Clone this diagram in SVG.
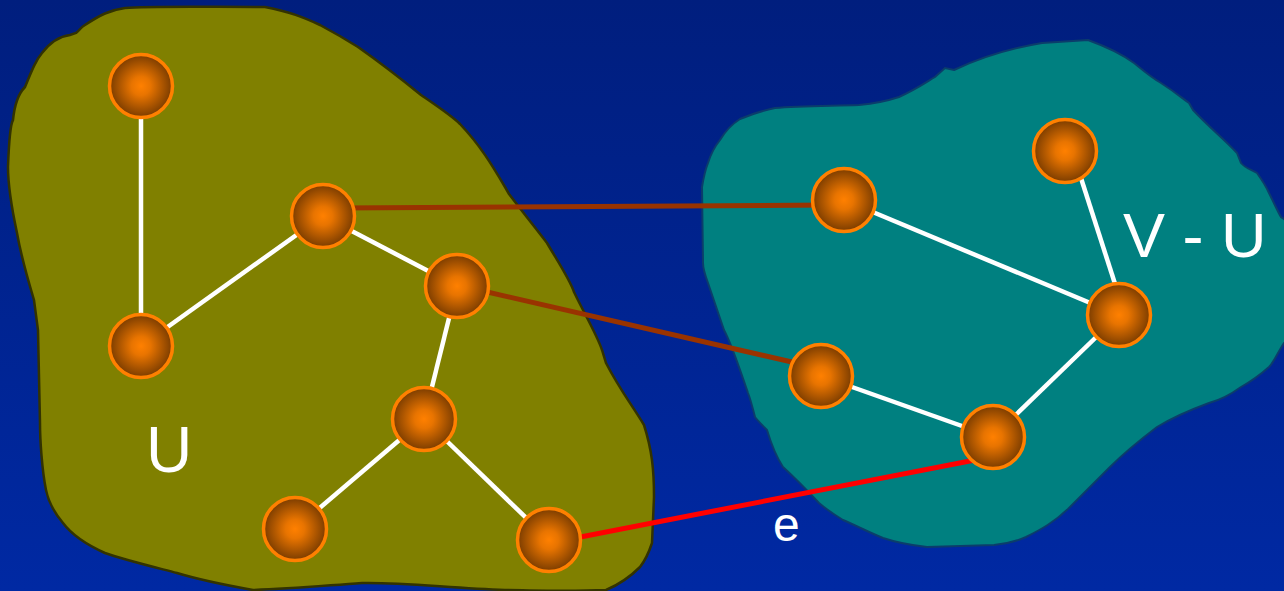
<svg xmlns="http://www.w3.org/2000/svg" width="1284" height="591" viewBox="0 0 1284 591">
<style>
.edge{stroke:#ffffff;stroke-width:4.5;fill:none}
.bridge{stroke:#993300;stroke-width:5;fill:none}
.cut{stroke:#ff0000;stroke-width:5;fill:none}
.node{fill:url(#ball);stroke:#ff8000;stroke-width:3.5}
.lbl{fill:#ffffff;font-family:"Liberation Sans",Arial,sans-serif}
</style>
<defs>
<linearGradient id="bg" x1="0" y1="0" x2="0" y2="1">
<stop offset="0" stop-color="#001e7e"/>
<stop offset="1" stop-color="#0029a3"/>
</linearGradient>
<radialGradient id="ball" cx="0.5" cy="0.5" r="0.5">
<stop offset="0" stop-color="#ff8000"/>
<stop offset="0.3" stop-color="#e87400"/>
<stop offset="1" stop-color="#7a3c00"/>
</radialGradient>
</defs>
<rect width="1284" height="591" fill="url(#bg)"/>
<g id="setU">
<path d="M265,7 C290,12 303,17 320,25 C335,33 350,42 358,47 C385,66 405,82 421,95 C440,108 452,116 460,124 C480,145 492,165 505,187 L509,194 C525,215 537,230 547,243 C560,265 570,280 574,292 C585,315 597,335 602,350 L606,363 C620,390 632,405 644,425 C652,450 654,470 654,497 L652,543 C648,555 644,562 640,567 C630,577 618,585 606,590 C560,592 530,590 505,590 C450,588 400,582 362,583 C320,586 290,589 253,590 C225,585 200,580 177,573 C150,566 125,560 105,553 C85,544 72,535 63,523 C52,510 48,500 46,490 C42,470 40,440 40,423 L38,330 L34,300 C25,270 20,250 17,233 C10,200 8,180 8,167 C9,140 10,125 13,120 C15,100 20,92 25,87 C32,70 36,60 42,53 C52,40 62,36 70,35 L76,33 C80,30 80,28 85,25 C100,15 110,10 125,8 C150,6 200,7 265,7 Z" fill="#808000" stroke="#333300" stroke-width="2.5"/>
<text class="lbl" x="146" y="472" font-size="64">U</text>
</g>
<g id="setVU">
<path d="M1088,40 C1110,48 1122,54 1134,63 C1145,72 1152,78 1161,83 C1175,92 1182,98 1189,103 L1193,110 C1210,128 1225,140 1237,153 L1241,163 C1245,168 1252,170 1257,173 C1262,180 1266,186 1269,193 C1274,203 1278,212 1281,217 L1300,230 L1300,335 L1284,343 C1278,352 1274,362 1269,367 C1260,375 1250,382 1241,387 C1230,395 1220,400 1209,403 C1190,410 1172,418 1157,427 C1140,440 1125,452 1110,467 C1095,482 1080,497 1070,507 C1055,522 1040,530 1026,537 C1015,542 1005,544 994,545 L927,547 C908,545 895,542 883,538 C868,532 855,525 843,520 C833,514 826,509 819,503 C805,488 795,478 783,467 C775,455 770,440 767,430 C762,425 758,421 755,417 C752,405 750,398 748,393 C740,370 732,345 724,330 L708,283 C705,275 703,268 703,263 L702,187 C704,175 706,168 708,163 C712,150 716,145 720,140 C726,130 732,124 740,119 C752,114 765,110 775,108 C800,106 830,106 859,105 C880,103 890,100 899,97 C915,90 925,83 935,77 L945,68 L954,70 C975,60 1000,50 1042,43 Z" fill="#008080" stroke="#0b3d6b" stroke-width="2"/>
<text class="lbl" x="1123" y="257" font-size="63">V - U</text>
</g>
<g id="connectors">
<line class="edge" x1="141" y1="86" x2="141" y2="346"/>
<line class="edge" x1="141" y1="346" x2="323" y2="216"/>
<line class="edge" x1="323" y1="216" x2="457" y2="286"/>
<line class="edge" x1="457" y1="286" x2="424" y2="419"/>
<line class="edge" x1="424" y1="419" x2="295" y2="529"/>
<line class="edge" x1="424" y1="419" x2="549" y2="540"/>
<line class="edge" x1="844" y1="200" x2="1119" y2="315"/>
<line class="edge" x1="1080" y1="175" x2="1117" y2="290"/>
<line class="edge" x1="1119" y1="315" x2="993" y2="437"/>
<line class="edge" x1="821" y1="376" x2="993" y2="437"/>
<line class="bridge" x1="340" y1="208" x2="830" y2="205"/>
<line class="bridge" x1="470" y1="288" x2="805" y2="365"/>
<line class="cut" x1="560" y1="541" x2="975" y2="460"/>
<text class="lbl" x="773" y="541" font-size="48">e</text>
</g>
<g id="n1"><circle class="node" cx="141" cy="86" r="31.5"/></g>
<g id="n2"><circle class="node" cx="323" cy="216" r="31.5"/></g>
<g id="n3"><circle class="node" cx="457" cy="286" r="31.5"/></g>
<g id="n4"><circle class="node" cx="141" cy="346" r="31.5"/></g>
<g id="n5"><circle class="node" cx="424" cy="419" r="31.5"/></g>
<g id="n6"><circle class="node" cx="295" cy="529" r="31.5"/></g>
<g id="n7"><circle class="node" cx="549" cy="540" r="31.5"/></g>
<g id="n8"><circle class="node" cx="844" cy="200" r="31.5"/></g>
<g id="n9"><circle class="node" cx="1065" cy="151" r="31.5"/></g>
<g id="n10"><circle class="node" cx="1119" cy="315" r="31.5"/></g>
<g id="n11"><circle class="node" cx="821" cy="376" r="31.5"/></g>
<g id="n12"><circle class="node" cx="993" cy="437" r="31.5"/></g>
</svg>
